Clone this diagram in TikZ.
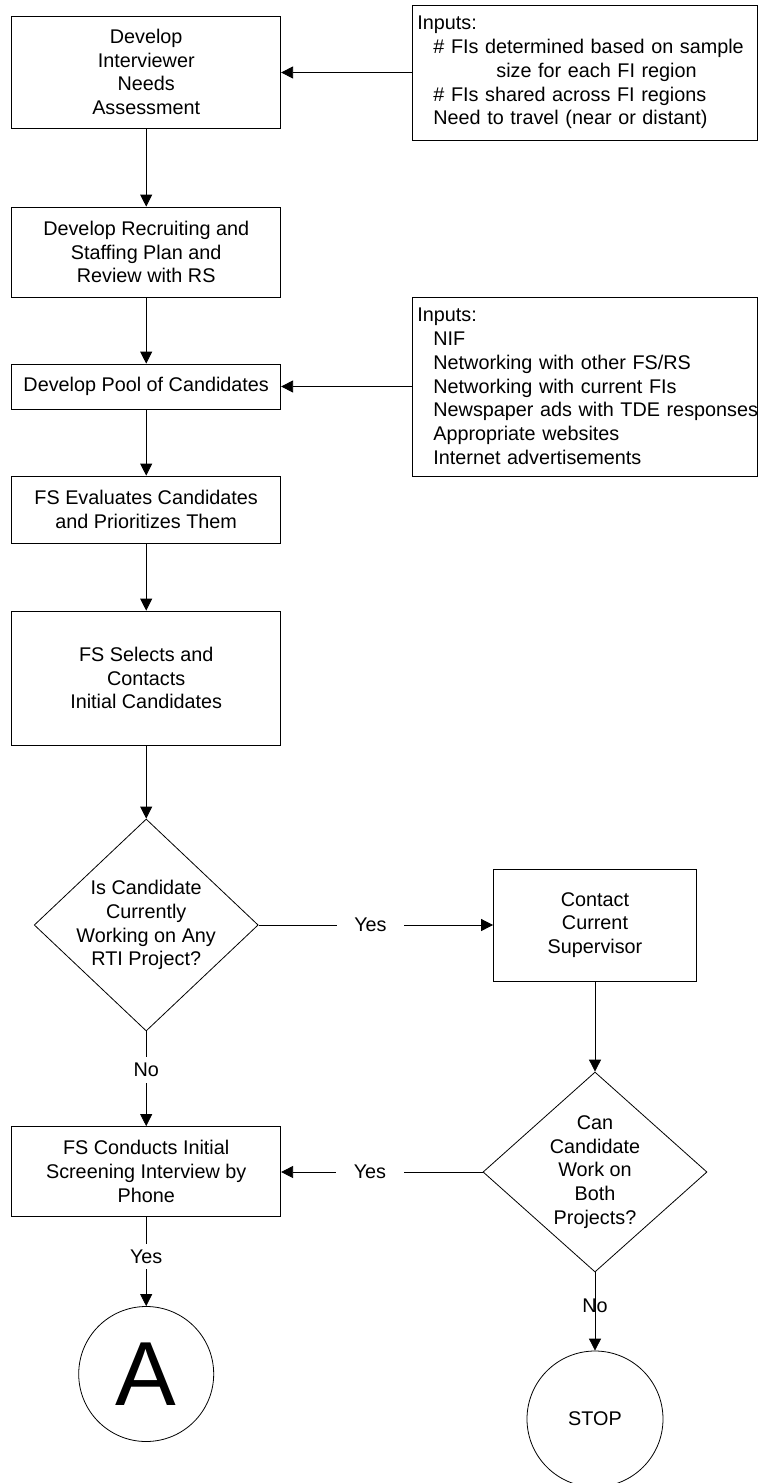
\documentclass[tikz,border=0pt]{standalone}
\usepackage{fontspec}
\setmainfont{Liberation Sans}
\usetikzlibrary{shapes.geometric,arrows.meta}
\tikzset{
  proc/.style={draw, rectangle, minimum width=269pt, align=center, inner sep=0pt},
  inbox/.style={draw, rectangle, anchor=west, text width=335pt, align=left, inner xsep=5.3pt, inner ysep=0pt},
  decision/.style={draw, diamond, inner sep=0pt},
  term/.style={draw, circle, inner sep=0pt},
  arr/.style={-{Triangle[length=12pt,width=12pt]}},
  lbl/.style={fill=white, inner xsep=17.5pt, inner ysep=6pt},
}
\begin{document}
\begin{tikzpicture}[x=1pt,y=-1pt, line width=0.8pt,
  every node/.style={font=\fontsize{19.8}{23.75}\selectfont}]
\useasboundingbox (0,0) rectangle (758,1483);

% left column
\node[proc, minimum height=112pt] (b1) at (146.2,72) {Develop\\Interviewer\\Needs\\Assessment};
\node[proc, minimum height=90pt] (b2) at (146.2,252) {Develop Recruiting and\\Staffing Plan and\\Review with RS};
\node[proc, minimum height=45pt] (b3) at (146.2,386.5) {Develop Pool of Candidates};
\node[proc, minimum height=67pt] (b4) at (146.2,509.5) {FS Evaluates Candidates\\and Prioritizes Them};
\node[proc, minimum height=134pt] (b5) at (146.2,678) {FS Selects and\\Contacts\\Initial Candidates};
\node[decision, minimum width=224pt, minimum height=212pt] (d1) at (146.2,925) {};
\node[align=center] (d1t) at (d1.center) {Is Candidate\\Currently\\Working on Any\\RTI Project?};
\node[proc, minimum height=90pt] (b6) at (146.2,1171.5) {FS Conducts Initial\\Screening Interview by\\Phone};
\node[term, minimum size=135pt, font=\fontsize{91}{91}\selectfont] (ca) at (146.2,1374) {A};

% right column
\node[proc, minimum width=203pt, minimum height=112pt] (c1) at (595,925) {Contact\\Current\\Supervisor};
\node[decision, minimum width=224pt, minimum height=200pt] (d2) at (595,1172) {};
\node[align=center] (d2t) at (d2.center) {Can\\Candidate\\Work on\\Both\\Projects?};
\node[term, minimum size=136pt] (cs) at (595,1419) {STOP};

% input boxes
\node[inbox, minimum height=135pt] (in1) at (411.7,72.5) {Inputs:\\
\mbox{\hspace*{16pt}\# FIs determined based on sample}\\
\mbox{\hspace*{79pt}size for each FI region}\\
\mbox{\hspace*{16pt}\# FIs shared across FI regions}\\
\mbox{\hspace*{16pt}Need to travel (near or distant)}};
\node[inbox, minimum height=179pt] (in2) at (411.7,386.5) {Inputs:\\
\mbox{\hspace*{16pt}NIF}\\
\mbox{\hspace*{16pt}Networking with other FS/RS}\\
\mbox{\hspace*{16pt}Networking with current FIs}\\
\mbox{\hspace*{16pt}Newspaper ads with TDE responses}\\
\mbox{\hspace*{16pt}Appropriate websites}\\
\mbox{\hspace*{16pt}Internet advertisements}};

% connectors
\draw[arr] (in1.west) -- (in1.west -| b1.east);
\draw[arr] (b1) -- (b2);
\draw[arr] (b2) -- (b3);
\draw[arr] (in2.west) -- (in2.west -| b3.east);
\draw[arr] (b3) -- (b4);
\draw[arr] (b4) -- (b5);
\draw[arr] (b5) -- (d1);
\draw[arr] (d1.east) -- node[lbl, pos=0.477] (yes1) {Yes} (c1.west);
\draw[arr] (d1.south) -- node[lbl, pos=0.41] (no1) {No} (b6.north);
\draw[arr] (c1.south) -- (d2.north);
\draw[arr] (d2.west) -- node[lbl, pos=0.559] (yes2) {Yes} (d2.west -| b6.east);
\draw[arr] (b6.south) -- node[lbl, pos=0.444] (yes3) {Yes} (ca.north);
\draw[arr] (d2.south) -- node[pos=0.43] (no2) {No} (cs.north);
\end{tikzpicture}
\end{document}
